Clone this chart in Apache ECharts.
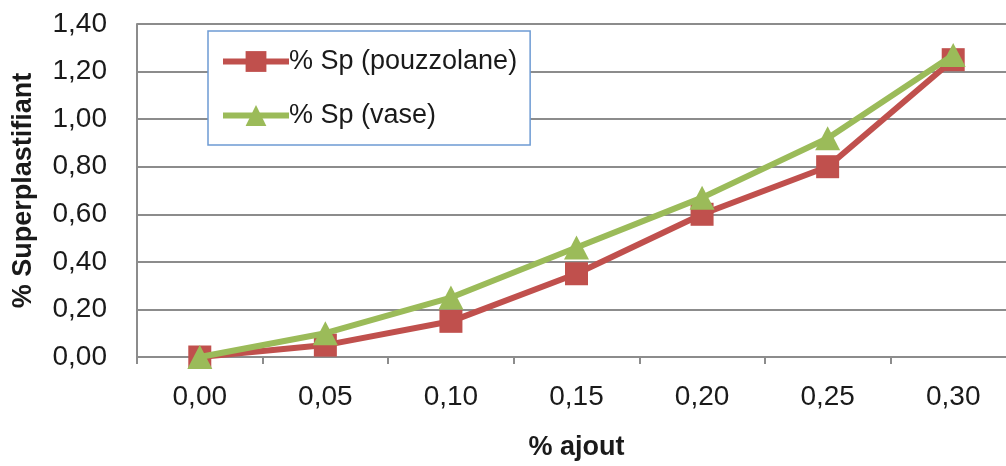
<!DOCTYPE html>
<html>
<head>
<meta charset="utf-8">
<script src="https://cdn.jsdelivr.net/npm/echarts@6/dist/echarts.min.js"></script>
<style>
  html, body { margin: 0; padding: 0; background: #fff; overflow: hidden; width: 1006px; height: 466px; }
  /* the plot area runs past the right edge of the page, so the container is a bit wider than the view */
  #chart { width: 1016px; height: 466px; display: block; }
</style>
</head>
<body>
<div id="chart"></div>
<script>
// Superplasticizer dosage versus addition rate
const ajoutLabels = ['0,00', '0,05', '0,10', '0,15', '0,20', '0,25', '0,30'];
const spPouzzolane = [0, 0.05, 0.15, 0.35, 0.60, 0.80, 1.25];
const spVase = [0, 0.10, 0.25, 0.46, 0.67, 0.92, 1.27];
const nomPouzzolane = '% Sp (pouzzolane)';
const nomVase = '% Sp (vase)';

const FONT = '"Liberation Sans", Arial, sans-serif';
const gridGray = '#8c8c8c';

const chart = echarts.init(document.getElementById('chart'), null, { renderer: 'canvas', width: 1016, height: 466 });

chart.setOption({
  animation: false,
  backgroundColor: '#ffffff',
  textStyle: { fontFamily: FONT },
  grid: { left: 137, top: 24, bottom: 103, right: 0, containLabel: false },
  legend: {
    orient: 'vertical',
    left: 208,
    top: 31,
    padding: [17, 13, 16, 12],
    itemGap: 27,
    itemWidth: 66,
    itemHeight: 26,
    borderColor: '#6d9bd3',
    borderWidth: 1.5,
    backgroundColor: '#ffffff',
    lineStyle: { width: 6 },
    textStyle: { fontFamily: FONT, fontSize: 27, color: '#1a1a1a', padding: [0, 0, 0, -5] },
    data: [nomPouzzolane, nomVase]
  },
  xAxis: {
    type: 'category',
    data: ajoutLabels,
    boundaryGap: true,
    name: '% ajout',
    nameLocation: 'middle',
    nameGap: 77,
    nameTextStyle: { fontFamily: FONT, fontSize: 27, fontWeight: 'bold', color: '#1a1a1a' },
    axisLine: { lineStyle: { color: gridGray, width: 2 } },
    axisTick: { show: true, length: 7, lineStyle: { color: gridGray, width: 2 } },
    axisLabel: { fontFamily: FONT, fontSize: 28, color: '#1a1a1a', margin: 26 },
    splitLine: { show: false }
  },
  yAxis: {
    type: 'value',
    min: 0,
    max: 1.4,
    interval: 0.2,
    name: '% Superplastifiant',
    nameLocation: 'middle',
    nameGap: 100,
    nameRotate: 90,
    nameTextStyle: { fontFamily: FONT, fontSize: 27, fontWeight: 'bold', color: '#1a1a1a' },
    axisLine: { show: true, lineStyle: { color: gridGray, width: 2 } },
    axisTick: { show: false },
    axisLabel: {
      fontFamily: FONT, fontSize: 28, color: '#1a1a1a', margin: 30,
      formatter: v => v.toFixed(2).replace('.', ',')
    },
    splitLine: { lineStyle: { color: gridGray, width: 2 } }
  },
  series: [
    {
      name: nomPouzzolane,
      type: 'line',
      data: spPouzzolane,
      symbol: 'rect',
      symbolSize: 23,
      itemStyle: { color: '#c0504d' },
      lineStyle: { color: '#c0504d', width: 6 },
      z: 2
    },
    {
      name: nomVase,
      type: 'line',
      data: spVase,
      symbol: 'triangle',
      symbolSize: [25, 24],
      itemStyle: { color: '#9bbb59' },
      lineStyle: { color: '#9bbb59', width: 6 },
      z: 3
    }
  ]
});
</script>
</body>
</html>
